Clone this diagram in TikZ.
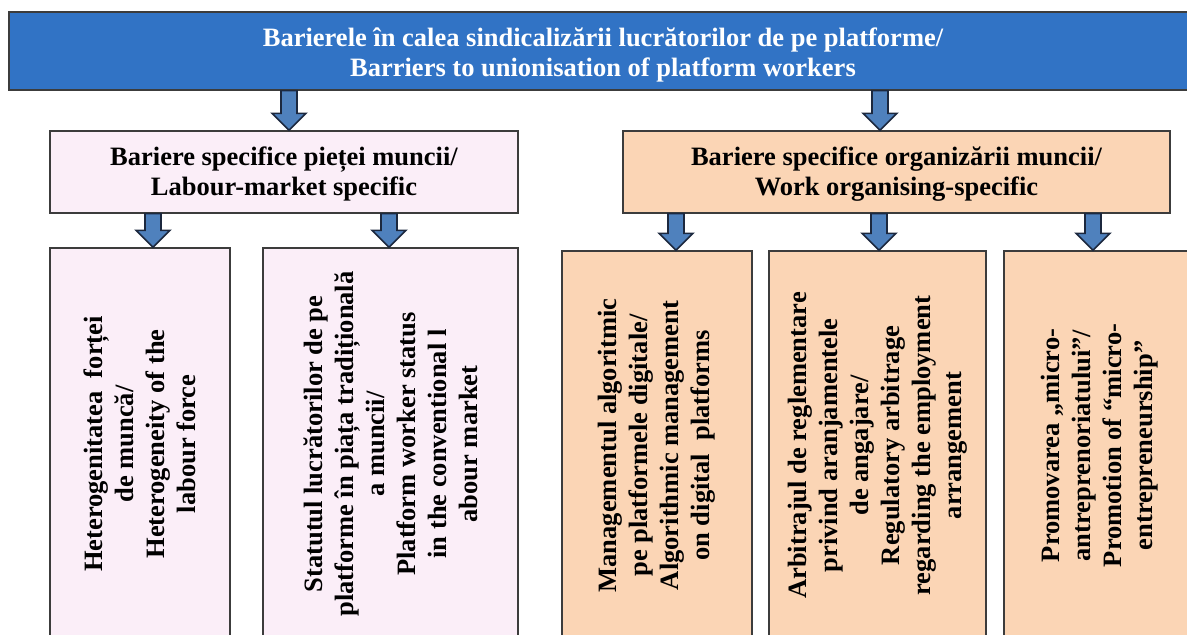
\documentclass[tikz,border=0pt]{standalone}
\usepackage{fontspec}
\setmainfont{Liberation Serif}
\usetikzlibrary{calc}
\definecolor{topblue}{RGB}{49,115,197}
\definecolor{pinkfill}{RGB}{251,238,248}
\definecolor{peachfill}{RGB}{251,213,181}
\definecolor{arrfill}{RGB}{79,129,189}
\definecolor{arrline}{RGB}{28,40,62}
\definecolor{boxline}{RGB}{60,60,60}
\tikzset{
  boxsty/.style={draw=boxline, line width=1.3pt, rectangle, inner sep=0pt, align=center,
    font=\fontsize{26.5}{30}\selectfont\bfseries},
  vtext/.style={rotate=90, align=center, inner sep=0pt,
    font=\fontsize{26.5}{31}\selectfont\bfseries},
  arrowsty/.style={fill=arrfill, draw=arrline, line width=1.6pt, line join=miter}
}
\newcommand\blockarr[2]{%
  \path[arrowsty] let \p1=(#1), \p2=(#2) in
    (\x1-8pt,\y1) -- (\x1+8pt,\y1) -- (\x1+8pt,\y2+17pt) -- (\x1+17pt,\y2+17pt)
    -- (\x1,\y2) -- (\x1-17pt,\y2+17pt) -- (\x1-8pt,\y2+17pt) -- cycle;}
\begin{document}
\begin{tikzpicture}[x=1pt,y=1pt]
\useasboundingbox (0,0) rectangle (1187,635);
\clip (0,0) rectangle (1187,635);
% top
\node[boxsty, fill=topblue, text=white, minimum width=1188, minimum height=78] (top) at (603,584)
  {\rule{0pt}{27pt}Barierele în calea sindicalizării lucrătorilor de pe platforme/\\Barriers to unionisation of platform workers};
% level 2
\node[boxsty, fill=pinkfill, minimum width=468, minimum height=82] (L) at (284,463)
  {\rule{0pt}{23pt}Bariere specifice pieței muncii/\\Labour-market specific};
\node[boxsty, fill=peachfill, minimum width=547, minimum height=82] (R) at (896.5,463)
  {\rule{0pt}{23pt}Bariere specifice organizării muncii/\\Work organising-specific};
% level 3 boxes
\node[boxsty, fill=pinkfill, minimum width=180, minimum height=392] (B1) at (140,191) {};
\node[boxsty, fill=pinkfill, minimum width=255, minimum height=392] (B2) at (390.5,191) {};
\node[boxsty, fill=peachfill, minimum width=190, minimum height=389] (B3) at (657,189.5) {};
\node[boxsty, fill=peachfill, minimum width=217, minimum height=389] (B4) at (877.5,189.5) {};
\node[boxsty, fill=peachfill, minimum width=200, minimum height=389] (B5) at (1104,189.5) {};
% vertical texts
\node[vtext] (T1) at (B1.center) {Heterogenitatea\ \ forței\\de muncă/\\Heterogeneity of the\\labour force};
\node[vtext] (T2) at (B2.center) {Statutul lucrătorilor de pe\\platforme în piața tradițională\\a muncii/\\Platform worker status\\in the conventional l\\abour market};
\node[vtext] (T3) at (B3.center) {Managementul algoritmic\\pe platformele digitale/\\Algorithmic management\\on digital\ \ platforms};
\node[vtext] (T4) at (B4.center) {Arbitrajul de reglementare\\privind aranjamentele\\de angajare/\\Regulatory arbitrage\\regarding the employment\\arrangement};
\node[vtext] (T5) at ([xshift=-4pt]B5.center) {Promovarea „micro-\\antreprenoriatului”/\\Promotion of “micro-\\entrepreneurship”};
% arrow x positions
\coordinate (a1) at (289,0);
\coordinate (a2) at (880,0);
\coordinate (a3) at (153,0);
\coordinate (a4) at (389,0);
\coordinate (a5) at (676,0);
\coordinate (a6) at (879,0);
\coordinate (a7) at (1093,0);
\blockarr{top.south -| a1}{L.north -| a1}
\blockarr{top.south -| a2}{R.north -| a2}
\blockarr{L.south -| a3}{B1.north -| a3}
\blockarr{L.south -| a4}{B2.north -| a4}
\blockarr{R.south -| a5}{B3.north -| a5}
\blockarr{R.south -| a6}{B4.north -| a6}
\blockarr{R.south -| a7}{B5.north -| a7}
\end{tikzpicture}
\end{document}
